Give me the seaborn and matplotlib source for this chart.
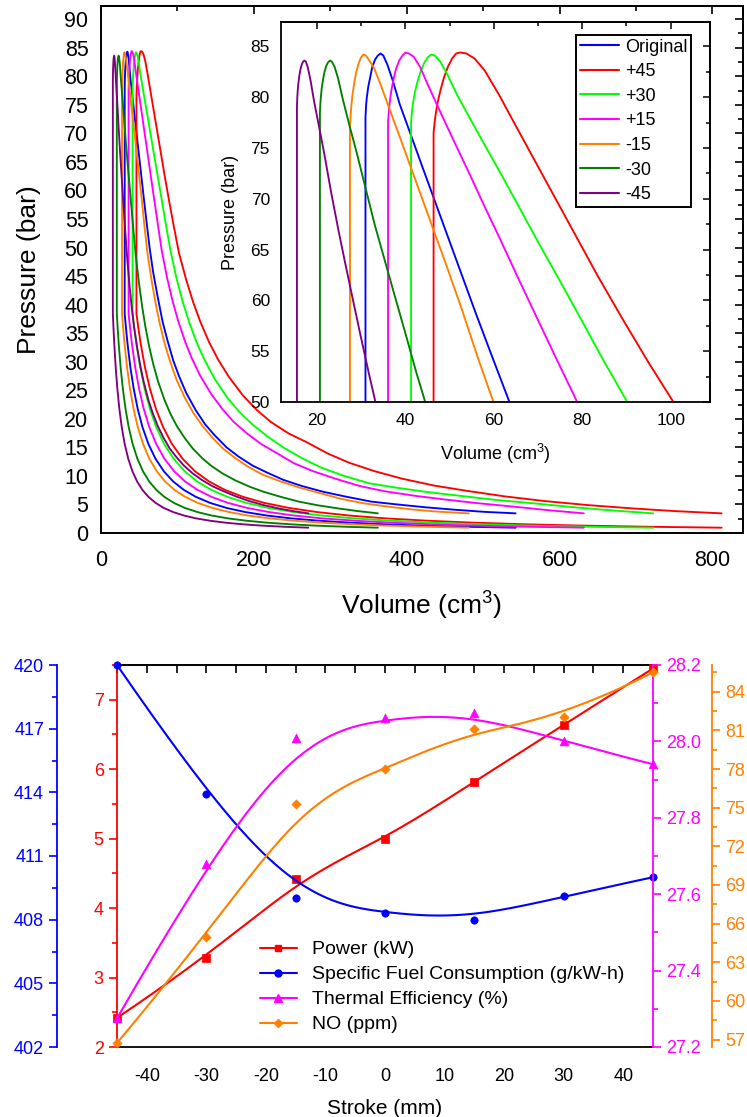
import numpy as np
import pandas as pd
import matplotlib
matplotlib.use('Agg')
import matplotlib.pyplot as plt
import seaborn as sns
from matplotlib.ticker import MultipleLocator, FormatStrFormatter, NullFormatter
from matplotlib.lines import Line2D

# ---------------- data: P-V diagrams ----------------
cases = ['Original', '+45', '+30', '+15', '-15', '-30', '-45']
colors = ['#0000FF', '#FF0000', '#00FF00', '#FF00FF', '#FF8000', '#008000', '#800080']
# clearance (minimum) volume of each case, cm^3
v_min = [31.0, 46.4, 41.3, 36.1, 27.5, 20.7, 15.5]
# volume ratio V/Vmin along compression stroke (BDC -> TDC) and pressure (bar)
comp_ratio = [17.5, 15.5, 13.5, 12, 10.5, 9.2, 8, 7, 6.1, 5.3, 4.6, 4.0, 3.5, 3.05, 2.65, 2.3,
              2.0, 1.75, 1.55, 1.38, 1.24, 1.12, 1.05, 1.0]
comp_p = [0.93, 1.09, 1.30, 1.52, 1.81, 2.15, 2.57, 3.06, 3.66, 4.39, 5.28, 6.34, 7.54, 9.01,
          10.82, 13.01, 15.60, 18.55, 21.73, 25.27, 29.03, 33.14, 36.05, 38.40]
# volume ratio along combustion/expansion stroke (TDC -> BDC)
exp_ratio = [1.0, 1.0, 1.005, 1.01, 1.02, 1.035, 1.05, 1.07, 1.09, 1.11, 1.13, 1.16, 1.2, 1.25,
             1.32, 1.4, 1.5, 1.6, 1.7, 1.8, 1.92, 2.05, 2.2, 2.4, 2.6, 2.8, 3.05, 3.3, 3.6, 4.0,
             4.4, 4.8, 5.3, 5.8, 6.4, 7.0, 7.7, 8.5, 9.4, 10.3, 11.4, 12.5, 13.7, 15.0, 16.2, 17.5]
exp_p_original = [38.4, 78.0, 79.3, 80.0, 81.0, 82.0, 83.0, 83.7, 84.1, 84.3, 84.1, 83.2, 81.6,
                  79.3, 76.7, 73.7, 70.0, 66.3, 62.6, 58.9, 54.6, 50.0, 45.7, 41.2, 37.0, 33.8,
                  30.2, 27.4, 24.5, 21.5, 19.0, 17.1, 15.0, 13.4, 11.8, 10.6, 9.3, 8.2, 7.2, 6.4,
                  5.5, 5.0, 4.5, 4.05, 3.7, 3.44]
exp_p_p45 = [38.4, 76.5, 77.5, 78.3, 79.5, 80.8, 81.9, 83.0, 83.8, 84.3, 84.4, 84.3, 83.8, 82.6,
             80.2, 77.2, 73.5, 69.8, 66.1, 62.4, 58.2, 53.8, 49.0, 44.4, 40.4, 37.0, 33.4, 30.4,
             27.4, 24.1, 21.5, 19.4, 17.4, 15.9, 13.9, 12.3, 10.85, 9.5, 8.3, 7.4, 6.4, 5.6,
             4.9, 4.3, 3.83, 3.44]
exp_p_p30 = [38.4, 77.5, 78.6, 79.3, 80.4, 81.5, 82.4, 83.3, 83.9, 84.2, 84.1, 83.5, 82.2, 80.3,
             78.0, 75.4, 72.2, 68.9, 65.6, 62.4, 58.5, 54.2, 49.5, 44.4, 40.3, 36.8, 33.1, 30.1,
             27.0, 23.7, 21.1, 19.0, 16.8, 14.9, 13.0, 11.4, 10.0, 8.7, 7.9, 7.2, 6.5, 5.8,
             5.2, 4.5, 3.95, 3.44]
exp_p_p15 = [38.4, 77.5, 78.6, 79.4, 80.6, 81.8, 82.8, 83.6, 84.1, 84.4, 84.3, 84.0, 83.0, 81.2,
             78.8, 76.1, 72.8, 69.4, 66.1, 62.7, 58.7, 54.4, 49.5, 44.6, 40.5, 37.1, 33.5, 30.5,
             27.5, 24.3, 21.7, 19.5, 17.4, 15.6, 13.9, 12.2, 10.8, 9.5, 8.2, 7.3, 6.5, 5.85,
             5.2, 4.6, 4.0, 3.44]
exp_p_m15 = [38.4, 77.0, 78.2, 79.0, 80.2, 81.4, 82.4, 83.3, 83.9, 84.2, 84.1, 83.6, 82.8, 81.3,
             79.0, 76.4, 73.1, 69.8, 66.5, 63.2, 59.1, 54.4, 49.3, 44.4, 40.2, 36.6, 32.9, 29.9,
             26.8, 23.6, 21.0, 18.9, 16.7, 14.8, 13.1, 11.6, 10.2, 9.1, 8.0, 7.1, 6.0, 5.2,
             4.6, 4.05, 3.7, 3.44]
exp_p_m30 = [38.4, 78.5, 79.4, 80.0, 80.9, 81.8, 82.5, 83.1, 83.45, 83.6, 83.5, 83.0, 81.8, 79.8,
             77.3, 74.6, 71.0, 67.4, 64.2, 61.0, 57.2, 53.0, 48.5, 43.8, 39.7, 36.2, 32.6, 29.6,
             26.6, 23.4, 20.8, 18.7, 16.6, 14.8, 13.1, 11.7, 10.4, 9.2, 8.1, 7.2, 6.3, 5.5,
             4.85, 4.3, 3.85, 3.44]
exp_p_m45 = [38.4, 79.0, 79.9, 80.5, 81.3, 82.1, 82.7, 83.2, 83.5, 83.6, 83.5, 82.9, 81.6, 79.6,
             77.2, 74.4, 70.6, 67.1, 63.8, 60.6, 56.8, 52.8, 48.4, 43.5, 39.4, 36.0, 32.5, 29.5,
             26.5, 23.3, 20.8, 18.7, 16.6, 14.8, 13.2, 11.8, 10.5, 9.3, 8.2, 7.35, 6.4, 5.6,
             4.9, 4.3, 3.85, 3.44]
exp_p = [exp_p_original, exp_p_p45, exp_p_p30, exp_p_p15, exp_p_m15, exp_p_m30, exp_p_m45]

# ---------------- data: performance vs stroke ----------------
stroke = [-45, -30, -15, 0, 15, 30, 45]
power = [2.42, 3.28, 4.42, 4.99, 5.82, 6.64, 7.45]
sfc = [420.0, 413.9, 409.0, 408.3, 408.0, 409.1, 410.0]
thermal_eff = [27.275, 27.68, 28.01, 28.06, 28.075, 28.0, 27.94]
no_ppm = [56.74, 65.0, 75.3, 78.0, 81.1, 82.0, 85.5]

# ---------------- style ----------------
sns.set_theme(style='white')
plt.rcParams['font.family'] = ['Liberation Sans', 'DejaVu Sans']
plt.rcParams['mathtext.default'] = 'regular'
plt.rcParams['axes.unicode_minus'] = False
plt.rcParams['axes.edgecolor'] = 'black'
plt.rcParams['xtick.color'] = 'black'
plt.rcParams['ytick.color'] = 'black'
plt.rcParams['text.color'] = 'black'
plt.rcParams['axes.labelcolor'] = 'black'

W, H = 747, 1117
fig = plt.figure(figsize=(W / 100, H / 100), dpi=100)
fig.patch.set_facecolor('white')


def frac(l, t, r, b):
    return [l / W, 1 - b / H, (r - l) / W, (b - t) / H]


def bspline(xs, ys, n=300, k=3):
    """Clamped cubic B-spline using the data points as control points (Origin 'B-Spline' line)."""
    cx = np.asarray(xs, float)
    cy = np.asarray(ys, float)
    m = len(cx)
    knots = np.concatenate([np.zeros(k), np.linspace(0, 1, m - k + 1), np.ones(k)])
    t = np.linspace(0, 1 - 1e-10, n)
    N = np.array([(t >= knots[i]) & (t < knots[i + 1]) for i in range(len(knots) - 1)], float)
    for p in range(1, k + 1):
        Nn = np.zeros((len(knots) - 1 - p, n))
        for i in range(len(knots) - 1 - p):
            d1 = knots[i + p] - knots[i]
            d2 = knots[i + p + 1] - knots[i + 1]
            a = (t - knots[i]) / d1 * N[i] if d1 > 0 else 0.0
            b = (knots[i + p + 1] - t) / d2 * N[i + 1] if d2 > 0 else 0.0
            Nn[i] = a + b
        N = Nn
    return N.T @ cx, N.T @ cy


def minor_major(a, axis, direction, maj=6, mino=3.5, width=1.2, **kw):
    a.tick_params(axis=axis, which='both', direction=direction, width=width, **kw)
    a.tick_params(axis=axis, which='major', length=maj)
    a.tick_params(axis=axis, which='minor', length=mino)


# ================= top: main P-V =================
ax = fig.add_axes(frac(101, 6, 743, 533))
axin = fig.add_axes(frac(281, 22, 710, 402))
axin.set_zorder(5)
axin.set_facecolor('white')

for name, col, vm, pe in zip(cases, colors, v_min, exp_p):
    v = np.concatenate([np.array(comp_ratio) * vm, np.array(exp_ratio) * vm])
    p = np.concatenate([comp_p, pe])
    df = pd.DataFrame({'V': v, 'P': p})
    sns.lineplot(data=df, x='V', y='P', sort=False, estimator=None, color=col, lw=1.35,
                 ax=ax, legend=False)
    sns.lineplot(data=df, x='V', y='P', sort=False, estimator=None, color=col, lw=1.35,
                 ax=axin, label=name)

ax.set_xlim(0, 840)
ax.set_ylim(0, 92.3)
ax.xaxis.set_major_locator(MultipleLocator(200))
ax.xaxis.set_minor_locator(MultipleLocator(100))
ax.yaxis.set_major_locator(MultipleLocator(5))
ax.yaxis.set_minor_locator(MultipleLocator(2.5))
minor_major(ax, 'both', 'out', labelsize=15.5)
ax.tick_params(axis='x', pad=6)
ax.tick_params(axis='y', pad=3)
for s in ax.spines.values():
    s.set_linewidth(1.4)
    s.set_color('black')
sx = ax.secondary_xaxis('top')
sx.xaxis.set_major_locator(MultipleLocator(200))
sx.xaxis.set_minor_locator(MultipleLocator(100))
sx.xaxis.set_major_formatter(NullFormatter())
minor_major(sx, 'x', 'in')
sy = ax.secondary_yaxis('right')
sy.yaxis.set_major_locator(MultipleLocator(5))
sy.yaxis.set_minor_locator(MultipleLocator(2.5))
sy.yaxis.set_major_formatter(NullFormatter())
minor_major(sy, 'y', 'in')
ax.set_xlabel('Volume (cm$^{3}$)', fontsize=19, labelpad=14)
ax.set_ylabel('Pressure (bar)', fontsize=19, labelpad=17)

# inset
axin.set_xlim(11.9, 108.9)
axin.set_ylim(50, 87.4)
axin.xaxis.set_major_locator(MultipleLocator(20))
axin.xaxis.set_minor_locator(MultipleLocator(10))
axin.yaxis.set_major_locator(MultipleLocator(5))
axin.yaxis.set_minor_locator(MultipleLocator(2.5))
minor_major(axin, 'both', 'out', maj=5, mino=3, width=1.1, labelsize=12.5, pad=3)
for s in axin.spines.values():
    s.set_linewidth(1.3)
    s.set_color('black')
ix = axin.secondary_xaxis('top')
ix.xaxis.set_major_locator(MultipleLocator(20))
ix.xaxis.set_minor_locator(MultipleLocator(10))
ix.xaxis.set_major_formatter(NullFormatter())
minor_major(ix, 'x', 'in', maj=5, mino=3, width=1.1)
iy = axin.secondary_yaxis('right')
iy.yaxis.set_major_locator(MultipleLocator(5))
iy.yaxis.set_minor_locator(MultipleLocator(2.5))
iy.yaxis.set_major_formatter(NullFormatter())
minor_major(iy, 'y', 'in', maj=5, mino=3, width=1.1)
axin.set_xlabel('Volume (cm$^{3}$)', fontsize=13, labelpad=10)
axin.set_ylabel('Pressure (bar)', fontsize=13, labelpad=8)
leg = axin.legend(loc='upper right', bbox_to_anchor=(0.9557, 0.9658), borderaxespad=0,
                  fontsize=13, handlelength=2.2, handletextpad=0.3, labelspacing=0.42,
                  borderpad=0.2, fancybox=False, framealpha=1, edgecolor='black')
leg.get_frame().set_linewidth(1.4)
for lh in leg.get_lines():
    lh.set_linewidth(1.5)

# ================= bottom: performance =================
axb = fig.add_axes(frac(117, 665, 653, 1047))
ax_sfc = axb.twinx()
ax_te = axb.twinx()
ax_no = axb.twinx()

c_pow, c_sfc, c_te, c_no = '#FF0000', '#0000FF', '#FF00FF', '#FF8000'

series = [(axb, power, c_pow, 's', 26), (ax_sfc, sfc, c_sfc, 'o', 28),
          (ax_te, thermal_eff, c_te, '^', 40), (ax_no, no_ppm, c_no, 'D', 22)]
for a, vals, col, mk, ms in series:
    bx, by = bspline(stroke, vals)
    sns.lineplot(x=bx, y=by, sort=False, estimator=None, color=col, lw=1.5, ax=a, legend=False)
    sns.scatterplot(x=stroke, y=vals, color=col, marker=mk, s=ms, edgecolor=col, linewidth=0.5,
                    ax=a, legend=False, zorder=5, clip_on=False)

axb.set_xlim(-45, 45)
axb.set_ylim(2, 7.5)
ax_sfc.set_ylim(402, 420)
ax_te.set_ylim(27.2, 28.2)
ax_no.set_ylim(56.43, 86.07)

# main (power) axis
axb.xaxis.set_major_locator(MultipleLocator(10))
axb.xaxis.set_minor_locator(MultipleLocator(5))
axb.yaxis.set_major_locator(MultipleLocator(1))
axb.yaxis.set_minor_locator(MultipleLocator(0.5))
minor_major(axb, 'both', 'out', labelsize=13)
axb.tick_params(axis='y', which='both', colors=c_pow)
axb.tick_params(axis='x', pad=9)
for s in axb.spines.values():
    s.set_linewidth(1.3)
    s.set_color('black')
axb.spines['left'].set_color(c_pow)
axb.spines['right'].set_visible(False)
bxs = axb.secondary_xaxis('top')
bxs.xaxis.set_major_locator(MultipleLocator(10))
bxs.xaxis.set_minor_locator(MultipleLocator(5))
bxs.xaxis.set_major_formatter(NullFormatter())
bxs.tick_params(which='both', direction='in', width=1.2, length=6)
axb.set_xlabel('Stroke (mm)', fontsize=15, labelpad=10)
axb.set_ylabel('')

# SFC axis (left, offset)
for k, s in ax_sfc.spines.items():
    s.set_visible(k == 'left')
ax_sfc.spines['left'].set_position(('axes', -0.1114))
ax_sfc.spines['left'].set_color(c_sfc)
ax_sfc.spines['left'].set_linewidth(1.3)
ax_sfc.yaxis.tick_left()
ax_sfc.yaxis.set_major_locator(MultipleLocator(3))
ax_sfc.yaxis.set_minor_locator(MultipleLocator(1.5))
minor_major(ax_sfc, 'y', 'out', colors=c_sfc, labelsize=13)
ax_sfc.set_ylabel('')

# Thermal efficiency axis (right)
for k, s in ax_te.spines.items():
    s.set_visible(k == 'right')
ax_te.spines['right'].set_color(c_te)
ax_te.spines['right'].set_linewidth(1.3)
ax_te.yaxis.set_major_locator(MultipleLocator(0.2))
ax_te.yaxis.set_minor_locator(MultipleLocator(0.1))
ax_te.yaxis.set_major_formatter(FormatStrFormatter('%.1f'))
minor_major(ax_te, 'y', 'out', colors=c_te, labelsize=13)
ax_te.set_ylabel('')

# NO axis (right, offset)
for k, s in ax_no.spines.items():
    s.set_visible(k == 'right')
ax_no.spines['right'].set_position(('axes', 1.1095))
ax_no.spines['right'].set_color(c_no)
ax_no.spines['right'].set_linewidth(1.3)
ax_no.yaxis.set_major_locator(MultipleLocator(3))
ax_no.yaxis.set_minor_locator(MultipleLocator(1.5))
minor_major(ax_no, 'y', 'out', colors=c_no, labelsize=13)
ax_no.set_ylabel('')

handles = [Line2D([], [], color=c_pow, marker='s', ms=5, lw=1.5),
           Line2D([], [], color=c_sfc, marker='o', ms=5, lw=1.5),
           Line2D([], [], color=c_te, marker='^', ms=6, lw=1.5),
           Line2D([], [], color=c_no, marker='D', ms=4.5, lw=1.5)]
labels = ['Power (kW)', 'Specific Fuel Consumption (g/kW-h)', 'Thermal Efficiency (%)', 'NO (ppm)']
ax_no.legend(handles, labels, loc='upper left', bbox_to_anchor=(0.2668, 0.278), frameon=False,
             fontsize=14, handlelength=1.9, handletextpad=0.77, labelspacing=0.38,
             borderpad=0, borderaxespad=0)

fig.savefig('out.png', dpi=100, facecolor='white')
